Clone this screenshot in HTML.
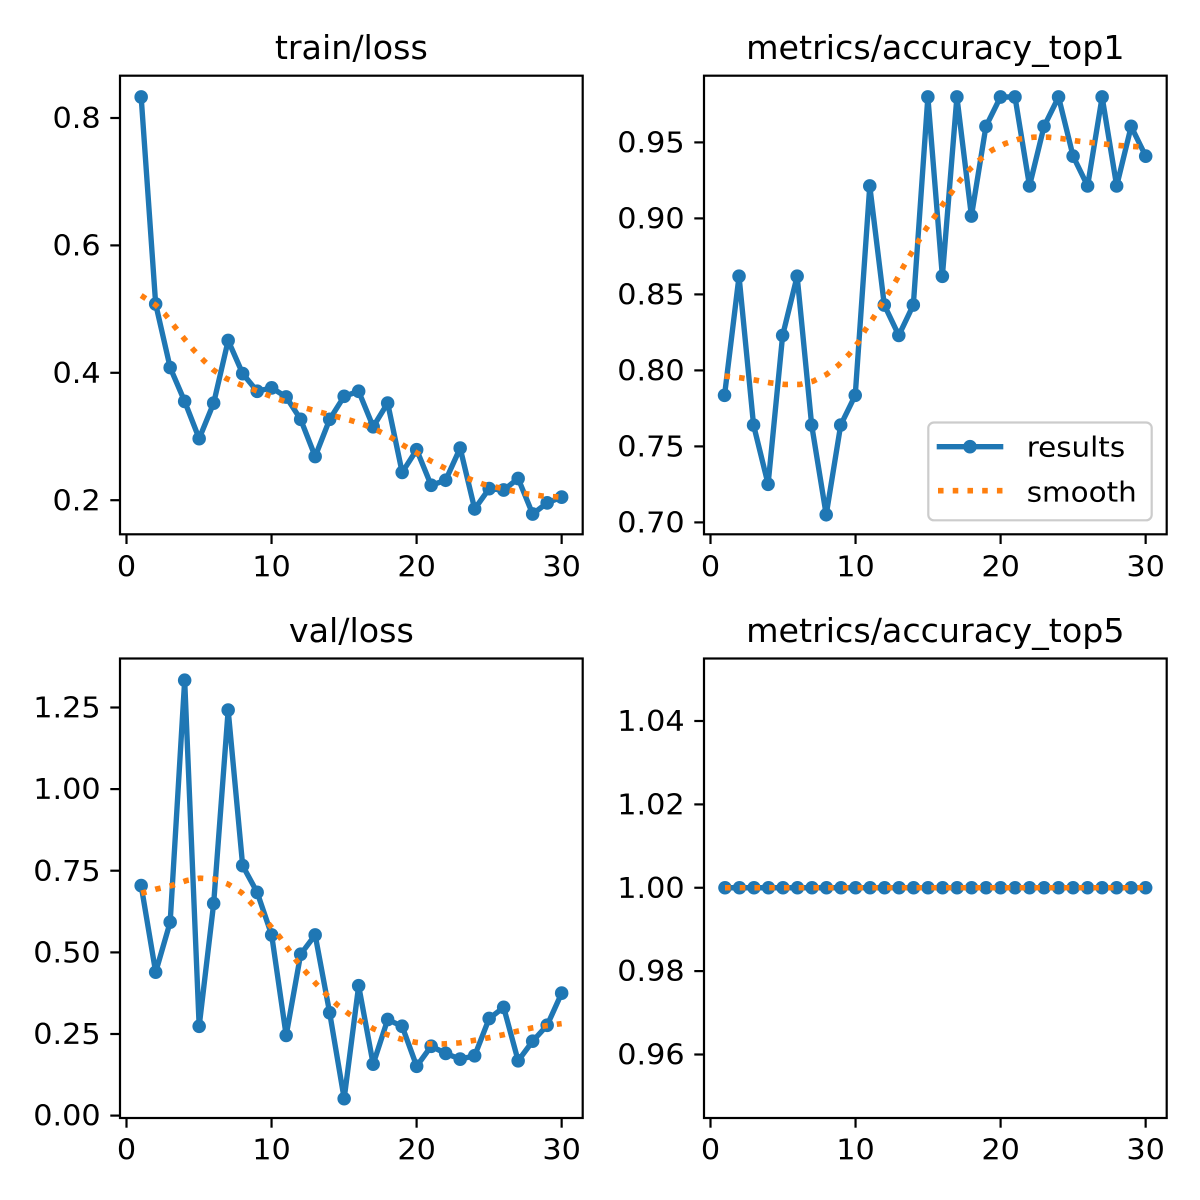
<!DOCTYPE html>
<html>
<head>
<meta charset="utf-8">
<style>
html,body{margin:0;padding:0;background:#fff;}
svg{display:block;}
text{font-family:"DejaVu Sans","Liberation Sans",sans-serif;fill:#000;}
.tl{font-size:28.3px;}
.lg{font-size:28px;}
.tt{font-size:33.3px;}
</style>
</head>
<body>
<svg width="1200" height="1200" viewBox="0 0 1200 1200" xmlns="http://www.w3.org/2000/svg">
<rect x="0" y="0" width="1200" height="1200" fill="#fff"/>

<!-- ============ TOP LEFT: train/loss ============ -->
<g transform="matrix(0.33333,0,0,0.33823,100,59.78)">
  <polyline fill="none" stroke="#1f77b4" stroke-width="16.1" stroke-linejoin="round"
    points="123.5,110 167,722 210.5,910 254,1010 297.5,1120 341,1015 384.5,830 428,928 471.5,980 515,970 558.5,997 602,1063 645.5,1173 689,1063 732.5,995 776,980 819.5,1085 863,1015 906.5,1220 950,1153 993.5,1258 1037,1243 1080.5,1148 1124,1328 1167.5,1268 1211,1272 1254.5,1238 1298,1343 1341.5,1310 1385,1293"/>
  <g fill="#1f77b4">
    <circle cx="123.5" cy="110" r="20.3"/><circle cx="167" cy="722" r="20.3"/><circle cx="210.5" cy="910" r="20.3"/><circle cx="254" cy="1010" r="20.3"/><circle cx="297.5" cy="1120" r="20.3"/><circle cx="341" cy="1015" r="20.3"/><circle cx="384.5" cy="830" r="20.3"/><circle cx="428" cy="928" r="20.3"/><circle cx="471.5" cy="980" r="20.3"/><circle cx="515" cy="970" r="20.3"/><circle cx="558.5" cy="997" r="20.3"/><circle cx="602" cy="1063" r="20.3"/><circle cx="645.5" cy="1173" r="20.3"/><circle cx="689" cy="1063" r="20.3"/><circle cx="732.5" cy="995" r="20.3"/><circle cx="776" cy="980" r="20.3"/><circle cx="819.5" cy="1085" r="20.3"/><circle cx="863" cy="1015" r="20.3"/><circle cx="906.5" cy="1220" r="20.3"/><circle cx="950" cy="1153" r="20.3"/><circle cx="993.5" cy="1258" r="20.3"/><circle cx="1037" cy="1243" r="20.3"/><circle cx="1080.5" cy="1148" r="20.3"/><circle cx="1124" cy="1328" r="20.3"/><circle cx="1167.5" cy="1268" r="20.3"/><circle cx="1211" cy="1272" r="20.3"/><circle cx="1254.5" cy="1238" r="20.3"/><circle cx="1298" cy="1343" r="20.3"/><circle cx="1341.5" cy="1310" r="20.3"/><circle cx="1385" cy="1293" r="20.3"/>
  </g>
  <polyline fill="none" stroke="#ff7f0e" stroke-width="16.6" stroke-dasharray="16.6 27.3"
    points="123.5,697 167,725 195,752 225,790 253,825 280,857 310,888 340,917 378,942 420,960 460,975 500,990 540,1005 580,1020 625,1032 665,1043 710,1055 755,1067 795,1080 835,1097 875,1118 910,1140 950,1162 990,1185 1030,1205 1070,1225 1110,1240 1150,1255 1195,1265 1240,1275 1280,1283 1330,1290 1385,1293"/>
</g>
<rect x="120" y="75.7" width="462.7" height="458.6" fill="none" stroke="#000" stroke-width="2.2"/>
<g stroke="#000" stroke-width="2.2">
  <line x1="126.5" y1="534.3" x2="126.5" y2="544"/>
  <line x1="271.55" y1="534.3" x2="271.55" y2="544"/>
  <line x1="416.6" y1="534.3" x2="416.6" y2="544"/>
  <line x1="561.65" y1="534.3" x2="561.65" y2="544"/>
  <line x1="110.3" y1="118" x2="120" y2="118"/>
  <line x1="110.3" y1="245.4" x2="120" y2="245.4"/>
  <line x1="110.3" y1="372.8" x2="120" y2="372.8"/>
  <line x1="110.3" y1="500.2" x2="120" y2="500.2"/>
</g>
<g class="tl" text-anchor="middle">
  <text transform="translate(126.5,576.3) scale(1.07,1)">0</text>
  <text transform="translate(271.55,576.3) scale(1.07,1)">10</text>
  <text transform="translate(416.6,576.3) scale(1.07,1)">20</text>
  <text transform="translate(561.65,576.3) scale(1.07,1)">30</text>
</g>
<g class="tl" text-anchor="end">
  <text transform="translate(100.6,128.1) scale(1.07,1)">0.8</text>
  <text transform="translate(100.6,255.5) scale(1.07,1)">0.6</text>
  <text transform="translate(100.6,382.9) scale(1.07,1)">0.4</text>
  <text transform="translate(100.6,510.3) scale(1.07,1)">0.2</text>
</g>
<text class="tt" x="351.35" y="59" text-anchor="middle">train/loss</text>

<!-- ============ TOP RIGHT: metrics/accuracy_top1 ============ -->
<g transform="matrix(0.33333,0,0,0.33823,690,59.78)">
  <polyline fill="none" stroke="#1f77b4" stroke-width="16.1" stroke-linejoin="round"
    points="103.6,992 147.1,640 190.7,1080 234.3,1255 277.9,815 321.4,640 365,1080 408.6,1345 452.1,1080 495.7,992 539.3,373 582.9,725 626.4,815 670,725 713.6,110 757.1,640 800.7,110 844.3,462 887.8,197 931.4,110 975,110 1018.5,373 1062.1,197 1105.7,110 1149.3,285 1192.8,373 1236.4,110 1280,373 1323.5,197 1367.1,285"/>
  <g fill="#1f77b4">
    <circle cx="103.6" cy="992" r="20.3"/><circle cx="147.1" cy="640" r="20.3"/><circle cx="190.7" cy="1080" r="20.3"/><circle cx="234.3" cy="1255" r="20.3"/><circle cx="277.9" cy="815" r="20.3"/><circle cx="321.4" cy="640" r="20.3"/><circle cx="365" cy="1080" r="20.3"/><circle cx="408.6" cy="1345" r="20.3"/><circle cx="452.1" cy="1080" r="20.3"/><circle cx="495.7" cy="992" r="20.3"/><circle cx="539.3" cy="373" r="20.3"/><circle cx="582.9" cy="725" r="20.3"/><circle cx="626.4" cy="815" r="20.3"/><circle cx="670" cy="725" r="20.3"/><circle cx="713.6" cy="110" r="20.3"/><circle cx="757.1" cy="640" r="20.3"/><circle cx="800.7" cy="110" r="20.3"/><circle cx="844.3" cy="462" r="20.3"/><circle cx="887.8" cy="197" r="20.3"/><circle cx="931.4" cy="110" r="20.3"/><circle cx="975" cy="110" r="20.3"/><circle cx="1018.5" cy="373" r="20.3"/><circle cx="1062.1" cy="197" r="20.3"/><circle cx="1105.7" cy="110" r="20.3"/><circle cx="1149.3" cy="285" r="20.3"/><circle cx="1192.8" cy="373" r="20.3"/><circle cx="1236.4" cy="110" r="20.3"/><circle cx="1280" cy="373" r="20.3"/><circle cx="1323.5" cy="197" r="20.3"/><circle cx="1367.1" cy="285" r="20.3"/>
  </g>
  <polyline fill="none" stroke="#ff7f0e" stroke-width="16.6" stroke-dasharray="16.6 27.3"
    points="103.6,935 150,940 195,947 240,955 285,960 330,960 370,950 410,930 445,903 478,870 505,835 525,800 550,763 573,725 597,688 620,650 640,612 662,575 685,537 708,500 735,462 760,425 785,392 810,357 840,323 870,295 905,268 945,248 985,235 1030,229 1075,229 1115,233 1160,240 1205,245 1250,250 1295,254 1340,257 1367,259"/>
</g>
<!-- legend -->
<rect x="928.3" y="422.5" width="223.4" height="97.8" rx="5.6" ry="5.6" fill="#fff" fill-opacity="0.8" stroke="#cccccc" stroke-width="2.2"/>
<line x1="936.7" y1="446.7" x2="1003.3" y2="446.7" stroke="#1f77b4" stroke-width="5.4"/>
<circle cx="970" cy="446.7" r="6.8" fill="#1f77b4"/>
<line x1="938" y1="490.7" x2="1003.3" y2="490.7" stroke="#ff7f0e" stroke-width="5.56" stroke-dasharray="5.56 9.17"/>
<text class="lg" transform="translate(1026.7,456.7) scale(1.05,1)">results</text>
<text class="lg" transform="translate(1026.7,501.7) scale(1.05,1)">smooth</text>

<rect x="704" y="75.7" width="462.7" height="458.6" fill="none" stroke="#000" stroke-width="2.2"/>
<g stroke="#000" stroke-width="2.2">
  <line x1="710.5" y1="534.3" x2="710.5" y2="544"/>
  <line x1="855.55" y1="534.3" x2="855.55" y2="544"/>
  <line x1="1000.6" y1="534.3" x2="1000.6" y2="544"/>
  <line x1="1145.65" y1="534.3" x2="1145.65" y2="544"/>
  <line x1="694.3" y1="142.4" x2="704" y2="142.4"/>
  <line x1="694.3" y1="218.4" x2="704" y2="218.4"/>
  <line x1="694.3" y1="294.4" x2="704" y2="294.4"/>
  <line x1="694.3" y1="370.4" x2="704" y2="370.4"/>
  <line x1="694.3" y1="446.4" x2="704" y2="446.4"/>
  <line x1="694.3" y1="522.4" x2="704" y2="522.4"/>
</g>
<g class="tl" text-anchor="middle">
  <text transform="translate(710.5,576.3) scale(1.07,1)">0</text>
  <text transform="translate(855.55,576.3) scale(1.07,1)">10</text>
  <text transform="translate(1000.6,576.3) scale(1.07,1)">20</text>
  <text transform="translate(1145.65,576.3) scale(1.07,1)">30</text>
</g>
<g class="tl" text-anchor="end">
  <text transform="translate(684.6,152.5) scale(1.07,1)">0.95</text>
  <text transform="translate(684.6,228.5) scale(1.07,1)">0.90</text>
  <text transform="translate(684.6,304.5) scale(1.07,1)">0.85</text>
  <text transform="translate(684.6,380.5) scale(1.07,1)">0.80</text>
  <text transform="translate(684.6,456.5) scale(1.07,1)">0.75</text>
  <text transform="translate(684.6,532.5) scale(1.07,1)">0.70</text>
</g>
<text class="tt" x="935.35" y="59" text-anchor="middle">metrics/accuracy_top1</text>

<!-- ============ BOTTOM LEFT: val/loss ============ -->
<g transform="matrix(0.33333,0,0,0.33823,100,644.78)">
  <polyline fill="none" stroke="#1f77b4" stroke-width="16.1" stroke-linejoin="round"
    points="123.5,712 167,968 210.5,820 254,105 297.5,1128 341,765 384.5,193 428,653 471.5,732 515,858 558.5,1155 602,915 645.5,858 689,1088 732.5,1342 776,1008 819.5,1240 863,1108 906.5,1128 950,1246 993.5,1187 1037,1208 1080.5,1225 1124,1215 1167.5,1105 1211,1072 1254.5,1230 1298,1172 1341.5,1125 1385,1030"/>
  <g fill="#1f77b4">
    <circle cx="123.5" cy="712" r="20.3"/><circle cx="167" cy="968" r="20.3"/><circle cx="210.5" cy="820" r="20.3"/><circle cx="254" cy="105" r="20.3"/><circle cx="297.5" cy="1128" r="20.3"/><circle cx="341" cy="765" r="20.3"/><circle cx="384.5" cy="193" r="20.3"/><circle cx="428" cy="653" r="20.3"/><circle cx="471.5" cy="732" r="20.3"/><circle cx="515" cy="858" r="20.3"/><circle cx="558.5" cy="1155" r="20.3"/><circle cx="602" cy="915" r="20.3"/><circle cx="645.5" cy="858" r="20.3"/><circle cx="689" cy="1088" r="20.3"/><circle cx="732.5" cy="1342" r="20.3"/><circle cx="776" cy="1008" r="20.3"/><circle cx="819.5" cy="1240" r="20.3"/><circle cx="863" cy="1108" r="20.3"/><circle cx="906.5" cy="1128" r="20.3"/><circle cx="950" cy="1246" r="20.3"/><circle cx="993.5" cy="1187" r="20.3"/><circle cx="1037" cy="1208" r="20.3"/><circle cx="1080.5" cy="1225" r="20.3"/><circle cx="1124" cy="1215" r="20.3"/><circle cx="1167.5" cy="1105" r="20.3"/><circle cx="1211" cy="1072" r="20.3"/><circle cx="1254.5" cy="1230" r="20.3"/><circle cx="1298" cy="1172" r="20.3"/><circle cx="1341.5" cy="1125" r="20.3"/><circle cx="1385" cy="1030" r="20.3"/>
  </g>
  <polyline fill="none" stroke="#ff7f0e" stroke-width="16.6" stroke-dasharray="16.6 27.3"
    points="123.5,735 170,722 215,712 260,697 300,690 345,693 385,708 425,733 455,765 485,798 510,830 540,865 565,900 590,935 620,970 648,1002 680,1035 710,1063 745,1090 780,1112 820,1135 860,1152 900,1165 945,1175 990,1180 1030,1180 1078,1177 1120,1170 1165,1162 1210,1153 1250,1143 1295,1133 1340,1126 1385,1120"/>
</g>
<rect x="120" y="658.5" width="462.7" height="459.5" fill="none" stroke="#000" stroke-width="2.2"/>
<g stroke="#000" stroke-width="2.2">
  <line x1="126.5" y1="1118" x2="126.5" y2="1127.7"/>
  <line x1="271.55" y1="1118" x2="271.55" y2="1127.7"/>
  <line x1="416.6" y1="1118" x2="416.6" y2="1127.7"/>
  <line x1="561.65" y1="1118" x2="561.65" y2="1127.7"/>
  <line x1="110.3" y1="707.5" x2="120" y2="707.5"/>
  <line x1="110.3" y1="789.1" x2="120" y2="789.1"/>
  <line x1="110.3" y1="870.7" x2="120" y2="870.7"/>
  <line x1="110.3" y1="952.4" x2="120" y2="952.4"/>
  <line x1="110.3" y1="1034" x2="120" y2="1034"/>
  <line x1="110.3" y1="1115.6" x2="120" y2="1115.6"/>
</g>
<g class="tl" text-anchor="middle">
  <text transform="translate(126.5,1159.6) scale(1.07,1)">0</text>
  <text transform="translate(271.55,1159.6) scale(1.07,1)">10</text>
  <text transform="translate(416.6,1159.6) scale(1.07,1)">20</text>
  <text transform="translate(561.65,1159.6) scale(1.07,1)">30</text>
</g>
<g class="tl" text-anchor="end">
  <text transform="translate(100.6,717.6) scale(1.07,1)">1.25</text>
  <text transform="translate(100.6,799.2) scale(1.07,1)">1.00</text>
  <text transform="translate(100.6,880.8) scale(1.07,1)">0.75</text>
  <text transform="translate(100.6,962.5) scale(1.07,1)">0.50</text>
  <text transform="translate(100.6,1044.1) scale(1.07,1)">0.25</text>
  <text transform="translate(100.6,1125.7) scale(1.07,1)">0.00</text>
</g>
<text class="tt" x="351.35" y="641.8" text-anchor="middle">val/loss</text>

<!-- ============ BOTTOM RIGHT: metrics/accuracy_top5 ============ -->
<line x1="725" y1="887.75" x2="1145.65" y2="887.75" stroke="#1f77b4" stroke-width="5.4"/>
<g fill="#1f77b4">
  <circle cx="725" cy="887.75" r="6.8"/><circle cx="739.5" cy="887.75" r="6.8"/><circle cx="754" cy="887.75" r="6.8"/><circle cx="768.5" cy="887.75" r="6.8"/><circle cx="783" cy="887.75" r="6.8"/><circle cx="797.5" cy="887.75" r="6.8"/><circle cx="812" cy="887.75" r="6.8"/><circle cx="826.5" cy="887.75" r="6.8"/><circle cx="841" cy="887.75" r="6.8"/><circle cx="855.6" cy="887.75" r="6.8"/><circle cx="870.1" cy="887.75" r="6.8"/><circle cx="884.6" cy="887.75" r="6.8"/><circle cx="899.1" cy="887.75" r="6.8"/><circle cx="913.6" cy="887.75" r="6.8"/><circle cx="928.1" cy="887.75" r="6.8"/><circle cx="942.6" cy="887.75" r="6.8"/><circle cx="957.1" cy="887.75" r="6.8"/><circle cx="971.6" cy="887.75" r="6.8"/><circle cx="986.1" cy="887.75" r="6.8"/><circle cx="1000.6" cy="887.75" r="6.8"/><circle cx="1015.1" cy="887.75" r="6.8"/><circle cx="1029.6" cy="887.75" r="6.8"/><circle cx="1044.1" cy="887.75" r="6.8"/><circle cx="1058.6" cy="887.75" r="6.8"/><circle cx="1073.1" cy="887.75" r="6.8"/><circle cx="1087.6" cy="887.75" r="6.8"/><circle cx="1102.1" cy="887.75" r="6.8"/><circle cx="1116.6" cy="887.75" r="6.8"/><circle cx="1131.1" cy="887.75" r="6.8"/><circle cx="1145.65" cy="887.75" r="6.8"/>
</g>
<line x1="725" y1="887.75" x2="1145.65" y2="887.75" stroke="#ff7f0e" stroke-width="5.56" stroke-dasharray="5.56 9.17"/>
<rect x="704" y="658.5" width="462.7" height="459.5" fill="none" stroke="#000" stroke-width="2.2"/>
<g stroke="#000" stroke-width="2.2">
  <line x1="710.5" y1="1118" x2="710.5" y2="1127.7"/>
  <line x1="855.55" y1="1118" x2="855.55" y2="1127.7"/>
  <line x1="1000.6" y1="1118" x2="1000.6" y2="1127.7"/>
  <line x1="1145.65" y1="1118" x2="1145.65" y2="1127.7"/>
  <line x1="694.3" y1="721" x2="704" y2="721"/>
  <line x1="694.3" y1="804.4" x2="704" y2="804.4"/>
  <line x1="694.3" y1="887.75" x2="704" y2="887.75"/>
  <line x1="694.3" y1="971.1" x2="704" y2="971.1"/>
  <line x1="694.3" y1="1054.5" x2="704" y2="1054.5"/>
</g>
<g class="tl" text-anchor="middle">
  <text transform="translate(710.5,1159.6) scale(1.07,1)">0</text>
  <text transform="translate(855.55,1159.6) scale(1.07,1)">10</text>
  <text transform="translate(1000.6,1159.6) scale(1.07,1)">20</text>
  <text transform="translate(1145.65,1159.6) scale(1.07,1)">30</text>
</g>
<g class="tl" text-anchor="end">
  <text transform="translate(684.6,731.1) scale(1.07,1)">1.04</text>
  <text transform="translate(684.6,814.5) scale(1.07,1)">1.02</text>
  <text transform="translate(684.6,897.85) scale(1.07,1)">1.00</text>
  <text transform="translate(684.6,981.2) scale(1.07,1)">0.98</text>
  <text transform="translate(684.6,1064.6) scale(1.07,1)">0.96</text>
</g>
<text class="tt" x="935.35" y="641.8" text-anchor="middle">metrics/accuracy_top5</text>
</svg>
</body>
</html>
